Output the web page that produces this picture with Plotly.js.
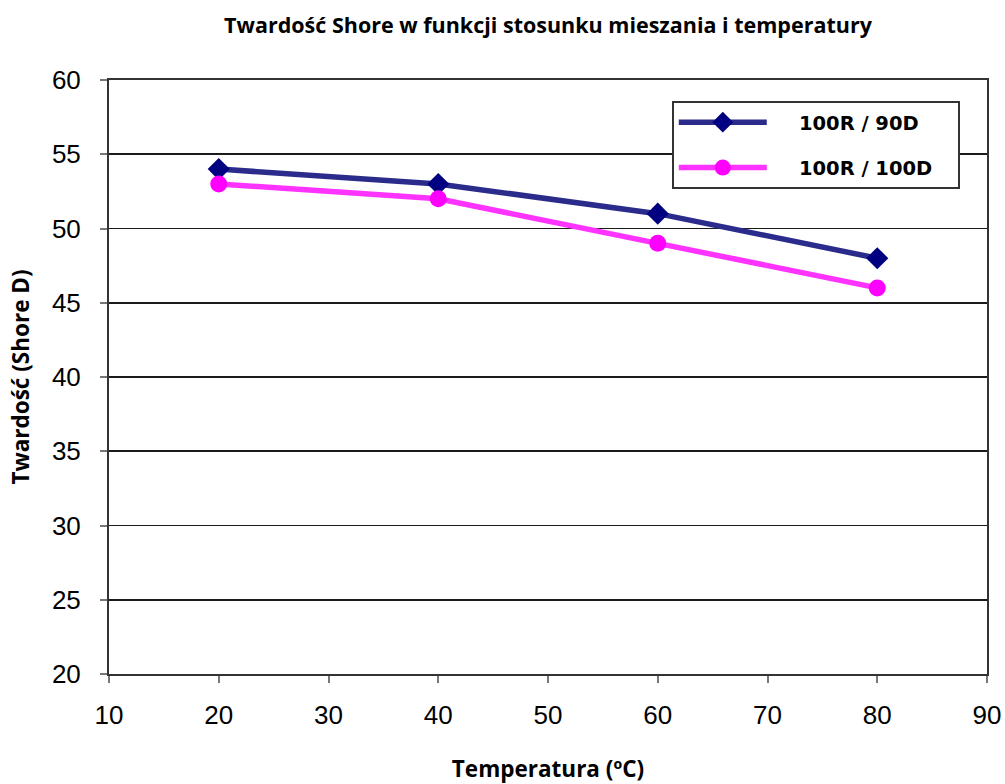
<!DOCTYPE html>
<html><head><meta charset="utf-8">
<script src="https://cdn.plot.ly/plotly-3.0.1.min.js"></script>
<style>html,body{margin:0;padding:0;background:#fff}#chart{width:1005px;height:784px}</style>
</head><body><div id="chart"></div>
<script>
const temperatures = [20, 40, 60, 80];
const hardness90D = [54, 53, 51, 48];
const hardness100D = [53, 52, 49, 46];
const seriesNames = ['100R / 90D', '100R / 100D'];
const xTicks = [10, 20, 30, 40, 50, 60, 70, 80, 90];
const yTicks = [20, 25, 30, 35, 40, 45, 50, 55, 60];

const pad = '\u00a0\u00a0\u00a0\u00a0';
const tail = '\u00a0\u00a0\u00a0\u00a0';
const traces = [
  {x: temperatures, y: hardness90D, name: pad + seriesNames[0] + tail, mode: 'lines+markers', type: 'scatter',
   legendgroup: 'a',
   line: {color: '#2b2b8c', width: 5.5}, marker: {symbol: 'diamond', size: 17, color: '#000080'}},
  {x: temperatures, y: hardness100D, name: pad + seriesNames[1] + '\u00a0\u00a0\u00a0', mode: 'lines+markers', type: 'scatter',
   legendgroup: 'b',
   line: {color: '#ff33ff', width: 5.5}, marker: {symbol: 'circle', size: 17, color: '#ff00ff'}}
];

const layout = {
  width: 1005, height: 784,
  margin: {l: 109, r: 18, t: 80, b: 110},
  paper_bgcolor: '#fff', plot_bgcolor: '#fff',
  showlegend: true,
  title: {text: '<b>Twardość Shore w funkcji stosunku mieszania i temperatury</b>',
          font: {family: 'Open Sans, sans-serif', size: 21.5, color: '#000'},
          xref: 'paper', x: 0.5, xanchor: 'center', y: 0.968, yanchor: 'middle'},
  xaxis: {range: [10, 90], tickvals: xTicks, ticktext: xTicks.map(String),
          showgrid: false, zeroline: false, showline: true, linecolor: '#333', linewidth: 2,
          mirror: true, ticks: 'outside', ticklen: 7, tickwidth: 2, tickcolor: '#777',
          ticklabelstandoff: 10,
          tickfont: {family: 'Liberation Sans, Arial, sans-serif', size: 26, color: '#000'},
          title: {text: '<b>Temperatura (ºC)</b>', font: {family: 'Open Sans, sans-serif', size: 22.5, color: '#000'}, standoff: 39}},
  yaxis: {range: [20, 60], tickvals: yTicks, ticktext: yTicks.map(String),
          showgrid: true, gridcolor: '#1a1a1a', gridwidth: 1.6, zeroline: false,
          showline: true, linecolor: '#333', linewidth: 2, mirror: true,
          ticks: 'outside', ticklen: 7, tickwidth: 2, tickcolor: '#777',
          ticklabelstandoff: 14,
          tickfont: {family: 'Liberation Sans, Arial, sans-serif', size: 26, color: '#000'},
          title: {text: '<b>Twardość (Shore D)</b>', font: {family: 'Open Sans, sans-serif', size: 22.5, color: '#000'}, standoff: 16}},
  legend: {x: 0.641, y: 0.9646, xanchor: 'left', yanchor: 'top',
           bgcolor: '#fff', bordercolor: '#333', borderwidth: 2,
           traceorder: 'grouped', tracegroupgap: 17,
           font: {family: 'DejaVu Sans, sans-serif', size: 19.5, color: '#000', weight: 'bold'},
           itemwidth: 88}
};

Plotly.newPlot('chart', traces, layout, {displayModeBar: false, staticPlot: true});
</script></body></html>
